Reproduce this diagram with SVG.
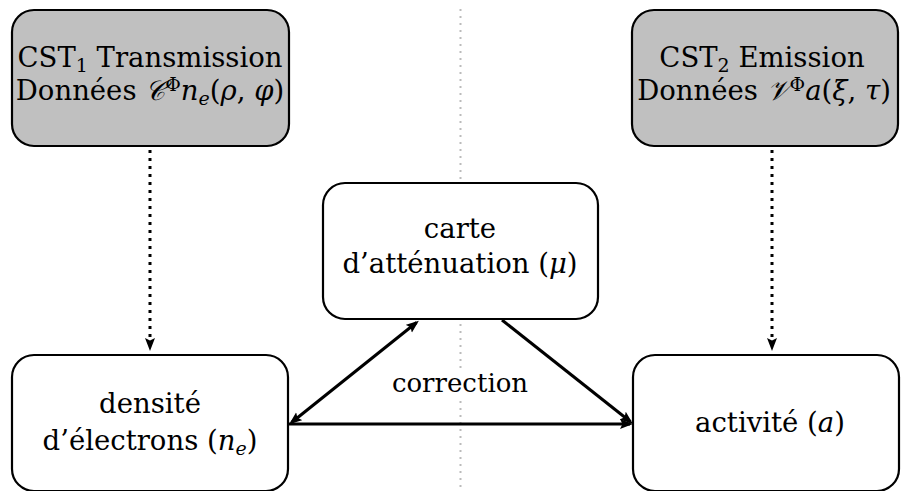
<svg xmlns="http://www.w3.org/2000/svg" width="901" height="491" viewBox="0 0 901 491">
<defs>
<style>
.box{fill:#ffffff;stroke:#000;stroke-width:2.2}
.src{fill:#c0c0c0;stroke:#000;stroke-width:2.2}
.t{font-family:'DejaVu Serif','Liberation Serif',serif;font-size:27.5px;fill:#000;text-anchor:middle}
.i{font-style:italic}
.s{font-size:19px}
.arr{stroke:#000;stroke-width:3;fill:none}
.dot{stroke:#000;stroke-width:3;fill:none;stroke-dasharray:3 5}
.mid{stroke:#bbbbbb;stroke-width:2;stroke-dasharray:2 5;fill:none}
</style>
<marker id="ah" markerUnits="userSpaceOnUse" markerWidth="16" markerHeight="12" refX="10" refY="5" orient="auto-start-reverse" viewBox="0 0 16 12">
<path d="M0,0 L13,5 L0,10 L2.5,5 Z" fill="#000"/>
</marker>
</defs>
<line class="mid" x1="460.5" y1="9" x2="460.5" y2="491"/>
<g id="connectors">
<line class="dot" x1="150" y1="150" x2="150" y2="348" marker-end="url(#ah)"/>
<line class="dot" x1="772" y1="150" x2="772" y2="348" marker-end="url(#ah)"/>
<line class="arr" x1="291.5" y1="422.5" x2="416.5" y2="322.5" marker-start="url(#ah)" marker-end="url(#ah)"/>
<line class="arr" x1="502" y1="320" x2="630.5" y2="421.8" marker-end="url(#ah)"/>
<line class="arr" x1="288" y1="424" x2="630" y2="424" marker-end="url(#ah)"/>
<rect x="392" y="370" width="138" height="27" fill="#fff"/>
<text class="t" x="460" y="392" style="font-size:26px">correction</text>
</g>
<g id="cst1">
<rect class="src" x="12" y="10" width="277" height="136" rx="22"/>
<text class="t" x="150" y="67">CST<tspan class="s" dy="5">1</tspan><tspan dy="-5"> Transmission</tspan></text>
<text class="t" x="150" y="100">Données <tspan class="i">𝒞</tspan><tspan class="s" dy="-9">Φ</tspan><tspan class="i" dy="9">n</tspan><tspan class="s i" dy="5">e</tspan><tspan dy="-5">(</tspan><tspan class="i">ρ</tspan>, <tspan class="i">φ</tspan>)</text>
</g>
<g id="cst2">
<rect class="src" x="632" y="10" width="266" height="136" rx="22"/>
<text class="t" x="762" y="67">CST<tspan class="s" dy="5">2</tspan><tspan dy="-5"> Emission</tspan></text>
<text class="t" x="764" y="100">Données <tspan class="i">𝒱</tspan><tspan class="s" dy="-9">Φ</tspan><tspan class="i" dy="9">a</tspan>(<tspan class="i">ξ</tspan>, <tspan class="i">τ</tspan>)</text>
</g>
<g id="attenuation">
<rect class="box" x="323" y="183" width="275" height="136" rx="22"/>
<text class="t" x="460" y="238">carte</text>
<text class="t" x="460" y="273">d’atténuation (<tspan class="i">μ</tspan>)</text>
</g>
<g id="densite">
<rect class="box" x="12" y="355" width="276" height="136" rx="22"/>
<text class="t" x="150" y="413">densité</text>
<text class="t" x="150" y="450">d’électrons (<tspan class="i">n</tspan><tspan class="s i" dy="5">e</tspan><tspan dy="-5">)</tspan></text>
</g>
<g id="activite">
<rect class="box" x="633" y="355" width="266" height="136" rx="22"/>
<text class="t" x="770" y="432">activité (<tspan class="i">a</tspan>)</text>
</g>
</svg>
